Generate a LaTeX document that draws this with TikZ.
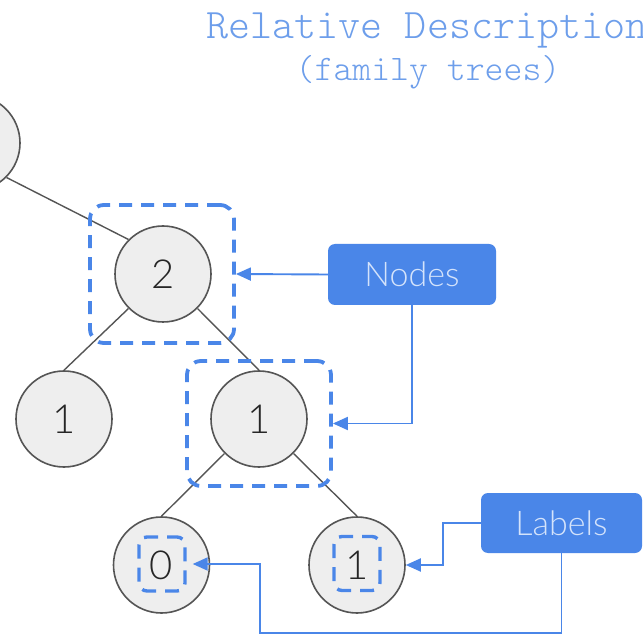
\documentclass[tikz,border=0pt]{standalone}
\usepackage{fontspec}
\usepackage{xcolor}
\usetikzlibrary{arrows.meta,calc}
\newfontfamily\thinmono{lmmonolt10-regular.otf}
\newfontfamily\tagfont{Lato Light}
\definecolor{accent}{HTML}{4A86E8}
\definecolor{titleblue}{HTML}{6D9EEB}
\definecolor{vfill}{HTML}{EEEEEE}
\definecolor{vline}{HTML}{555555}
\definecolor{tagtext}{HTML}{D4E3FB}
\tikzset{
  vert/.style={circle, draw=vline, fill=vfill, line width=1.6pt, minimum size=96pt, inner sep=0pt,
    text=black!85, font=\tagfont\fontsize{40}{40}\selectfont},
  link/.style={draw=vline, line width=1.4pt},
  hl/.style={draw=accent, line width=3.8pt, dash pattern=on 13pt off 9pt, rounded corners=14pt, inner sep=0pt},
  hlsmall/.style={hl, line width=3.4pt, dash pattern=on 14pt off 9pt, dash phase=4pt, rounded corners=8pt,
    minimum width=46pt, minimum height=54pt},
  tag/.style={fill=accent, rounded corners=7pt, text=tagtext, inner sep=0pt,
    font=\tagfont\fontsize{34}{34}\selectfont},
  conn/.style={draw=accent, line width=1.9pt, -{Triangle[length=15pt,width=13pt]}},
  title/.style={text=titleblue, inner sep=0pt},
}

\begin{document}
\begin{tikzpicture}[x=1pt, y=-1pt]
  \fill[white] (0,0) rectangle (643,636);
  \useasboundingbox (0,0) rectangle (643,636);

  % heading
  \node[title, font=\thinmono\fontsize{42}{42}\selectfont] (head) at (427,31) {Relative Description};
  \node[title, font=\thinmono\fontsize{36}{36}\selectfont] (sub) at (428,72) {(family trees)};

  % the tree
  \node[vert] (root) at (-28,143) {};
  \node[vert] (n2) at (163,274) {2};
  \node[vert] (l1) at (64,419) {1};
  \node[vert] (m1) at (259,419) {1};
  \node[vert] (z0) at (161.5,565) {0};
  \node[vert] (r1) at (357,565) {1};

  \draw[link] (root.-45) -- (n2.135);
  \draw[link] (n2.225) -- (l1.north);
  \draw[link] (n2.-45) -- (m1.north);
  \draw[link] (m1.225) -- (z0.north);
  \draw[link] (m1.-45) -- (r1.north);

  % dashed marks round nodes and labels
  \node[hl, minimum width=144pt, minimum height=138pt] (hl2) at (162,274) {};
  \node[hl, minimum width=144pt, minimum height=125pt] (hlm) at (259,423.5) {};
  \node[hlsmall] (hl0) at (162,564) {};
  \node[hlsmall] (hl1) at (357,563.5) {};

  % callouts
  \node[tag, minimum width=168pt, minimum height=61pt] (nodes) at (412,274.5) {Nodes};
  \node[tag, minimum width=161pt, minimum height=60pt] (labels) at (561.5,523) {Labels};

  \draw[conn] (nodes.west) -- (hl2.east);
  \draw[conn] (nodes.south) |- (hlm.east);
  \draw[conn] (labels.west) -- ++(-38,0) |- (r1.east);
  \coordinate (bend) at (260,633);
  \draw[conn] (labels.south) |- (bend) |- ([xshift=6pt]hl0.east);
\end{tikzpicture}
\end{document}
